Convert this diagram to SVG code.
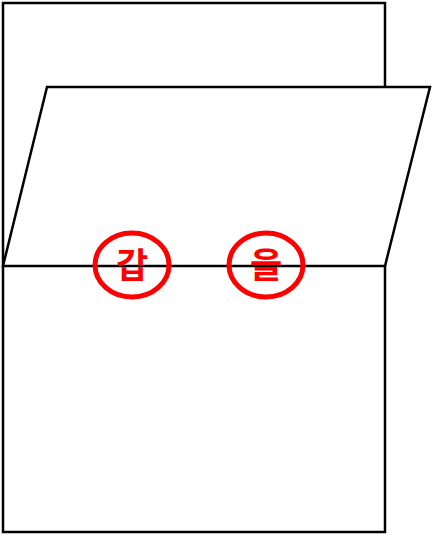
<svg xmlns="http://www.w3.org/2000/svg" width="433" height="535" viewBox="0 0 433 535">
<style>
.shape{fill:#fff;stroke:#000;stroke-width:2.5}
.mark{fill:none;stroke:#f00;stroke-width:5}
.lbl{fill:#f00;font-family:"Noto Sans CJK KR",sans-serif;font-weight:bold;font-size:35px;text-anchor:middle}
</style>
<g id="box"><rect class="shape" x="3" y="3" width="382" height="529"/></g>
<g id="lid"><polygon class="shape" points="47,87 430,87 385,266 3,266"/></g>
<g id="connectors"></g>
<g id="gap"><ellipse class="mark" cx="132" cy="265" rx="37" ry="32"/><text class="lbl" x="132" y="278">갑</text></g>
<g id="eul"><ellipse class="mark" cx="266" cy="265" rx="37" ry="32"/><text class="lbl" x="266" y="278">을</text></g>
</svg>
